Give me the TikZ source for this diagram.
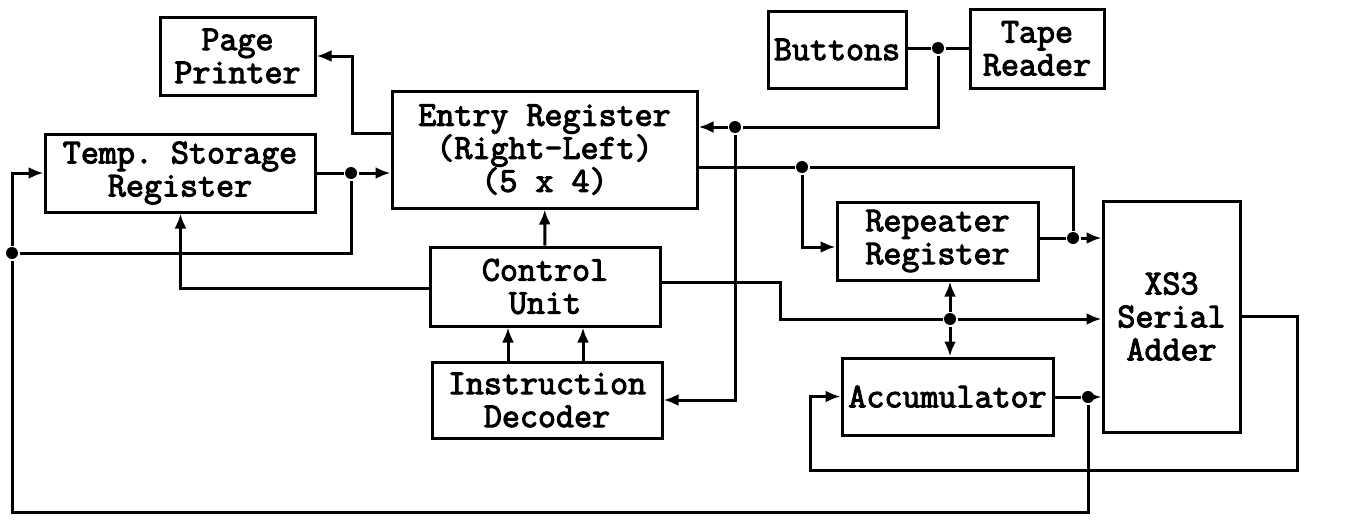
\documentclass[tikz,border=0pt]{standalone}
\usepackage{fontspec}
\usetikzlibrary{arrows.meta}
\newfontfamily\typew[FakeBold=3]{Latin Modern Mono}

\begin{document}
\begin{tikzpicture}[x=1pt,y=-1pt,line width=3pt,
  blk/.style={draw,align=center,inner sep=0pt,
    font=\typew\fontsize{35}{33}\selectfont},
  arr/.style={-{Latex[length=15pt,width=12pt]}},
  dot/.style={circle,fill,inner sep=0pt,minimum size=12pt}]
  \useasboundingbox (0,0) rectangle (1354,522);
  % blocks
  \node[blk,minimum width=155pt,minimum height=78pt] (printer) at (237.5,56) {Page\\Printer};
  \node[blk,minimum width=270pt,minimum height=78pt] (tempreg) at (180,173) {Temp.\ Storage\\Register};
  \node[blk,minimum width=305pt,minimum height=117pt] (entryreg) at (544.5,149.5) {Entry Register\\(Right-Left)\\(5 x 4)};
  \node[blk,minimum width=138pt,minimum height=77pt] (buttons) at (837,49.5) {Buttons};
  \node[blk,minimum width=134pt,minimum height=79pt] (tapereader) at (1037,48.5) {Tape\\Reader};
  \node[blk,minimum width=201pt,minimum height=78pt] (repeater) at (937.5,241) {Repeater\\Register};
  \node[blk,minimum width=137pt,minimum height=231pt] (adder) at (1171.5,316.5) {XS3\\Serial\\Adder};
  \node[blk,minimum width=230pt,minimum height=79pt] (control) at (545,286.5) {Control\\Unit};
  \node[blk,minimum width=230pt,minimum height=76pt] (decoder) at (547,400) {Instruction\\Decoder};
  \node[blk,minimum width=211pt,minimum height=77pt] (accum) at (947.5,396.5) {Accumulator};
  % junctions
  \node[dot] (jbt) at (938,48) {};
  \node[dot] (jer) at (735,127) {};
  \node[dot] (jrep) at (802,167) {};
  \node[dot] (jxr) at (1073,238) {};
  \node[dot] (jca) at (950,319) {};
  \node[dot] (jacc) at (1088,397) {};
  \node[dot] (jleft) at (12,253) {};
  \node[dot] (jtmp) at (351,173) {};
  % input side
  \draw (buttons.east |- jbt) -- (jbt) -- (tapereader.west |- jbt);
  \draw[arr] (jbt) |- (jer) -- (entryreg.east |- jer);
  \draw[arr] (jer) |- (decoder.east);
  \draw[arr] ([xshift=-39pt]decoder.north) -- ([xshift=-39pt]decoder.north |- control.south);
  \draw[arr] ([xshift=36pt]decoder.north) -- ([xshift=36pt]decoder.north |- control.south);
  \draw[arr] (control) -- (entryreg);
  \draw[arr] ([yshift=-2pt]control.west) -| ([xshift=137pt]tempreg.south west);
  \draw[arr] ([yshift=16pt]entryreg.west) -| ([xshift=36pt]printer.east) -- (printer.east);
  \draw (tempreg.east) -- (jtmp);
  \draw[arr] (jtmp) -- (entryreg.west |- jtmp);
  % to the adder
  \draw (entryreg.east |- jrep) -- (jrep) -| (jxr);
  \draw[arr] (jrep) |- ([yshift=-6pt]repeater.west);
  \draw (repeater.east |- jxr) -- (jxr);
  \draw[arr] (jxr) -- (adder.west |- jxr);
  \draw ([yshift=4pt]control.east) -| (780,319) -- (jca);
  \draw[arr] (jca) -- (adder.west |- jca);
  \draw[arr] (jca) -- (repeater.south -| jca);
  \draw[arr] (jca) -- (accum.north -| jca);
  \draw (accum.east |- jacc) -- (jacc);
  \draw[arr] (jacc) -- (adder.west |- jacc);
  % feedback loops
  \draw[arr] (adder.east) -| (1297,470) -| (810,396.5) -- (accum.west);
  \draw (jacc) |- (12,512) -- (jleft);
  \draw[arr] (jleft) |- (tempreg.west);
  \draw (jleft) -| (jtmp);
\end{tikzpicture}
\end{document}
